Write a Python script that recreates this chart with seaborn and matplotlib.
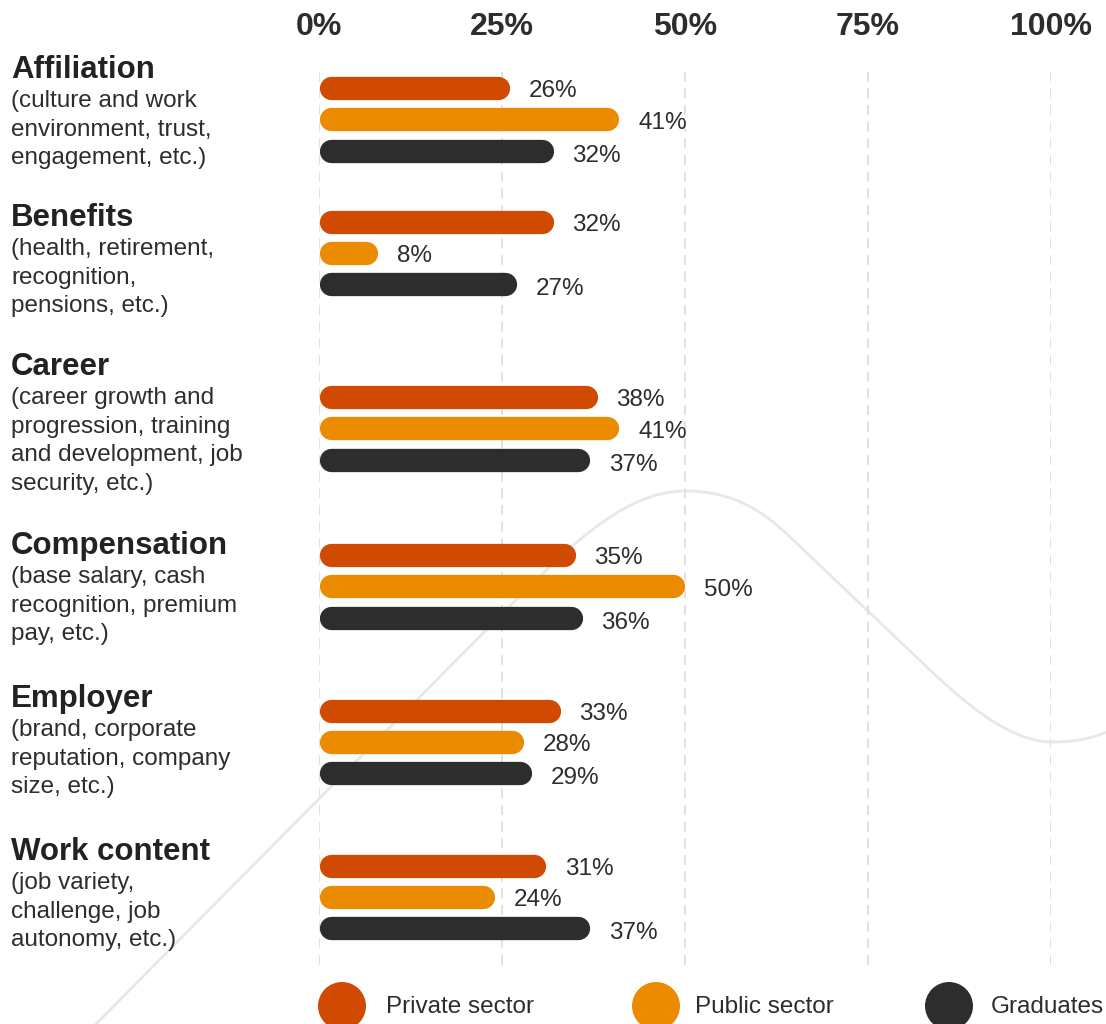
import numpy as np
import pandas as pd
import matplotlib
matplotlib.use("Agg")
import matplotlib.pyplot as plt
from matplotlib.patches import Circle, PathPatch
from matplotlib.path import Path
from matplotlib.transforms import Affine2D
import seaborn as sns

# ---------------- data ----------------
categories = ["Affiliation", "Benefits", "Career", "Compensation", "Employer", "Work content"]
descriptions = [
    ["(culture and work", "environment, trust,", "engagement, etc.)"],
    ["(health, retirement,", "recognition,", "pensions, etc.)"],
    ["(career growth and", "progression, training", "and development, job", "security, etc.)"],
    ["(base salary, cash", "recognition, premium", "pay, etc.)"],
    ["(brand, corporate", "reputation, company", "size, etc.)"],
    ["(job variety,", "challenge, job", "autonomy, etc.)"],
]
series_names = ["Private sector", "Public sector", "Graduates"]
private_sector = [26, 32, 38, 35, 33, 31]
public_sector = [41, 8, 41, 50, 28, 24]
graduates = [32, 27, 37, 36, 29, 37]
tick_values = [0, 25, 50, 75, 100]
tick_labels = ["0%", "25%", "50%", "75%", "100%"]

colors = ["#D04A02", "#EB8C00", "#2D2D2D"]
TEXT = "#2d2d2d"

# ---------------- layout (pixel rows, measured top-down) ----------------
W, H = 1106, 1024
AX_LEFT, AX_RIGHT, AX_TOP, AX_BOTTOM = 319, 1051, 70, 965
group_mid = [119.3, 252.7, 428.3, 586.3, 741.7, 896.7]
bar_step = 31.2
bar_h = 23.3
title_baseline = [78, 226, 375, 554, 707, 860]
label_dy = [0.5, 1.0, 2.5]

sns.set_theme(style="white")
plt.rcParams["font.family"] = ["Liberation Sans", "DejaVu Sans"]

series_values = [private_sector, public_sector, graduates]
rows = []
for s_i, (name, vals) in enumerate(zip(series_names, series_values)):
    for c_i, v in enumerate(vals):
        rows.append(dict(category=categories[c_i], series=name, value=v,
                         ypos=group_mid[c_i] + (s_i - 1) * bar_step))
df = pd.DataFrame(rows)

fig = plt.figure(figsize=(W / 100, H / 100), dpi=100)
fig.patch.set_facecolor("white")
ax = fig.add_axes([AX_LEFT / W, 1 - AX_BOTTOM / H,
                   (AX_RIGHT - AX_LEFT) / W, (AX_BOTTOM - AX_TOP) / H])
ax.patch.set_alpha(0)

sns.barplot(data=df, x="value", y="ypos", hue="series", hue_order=series_names,
            palette=colors, saturation=1, orient="h", native_scale=True,
            dodge=False, errorbar=None, legend=False, ax=ax, width=0.7)

ax.set_xlim(0, 100)
ax.set_ylim(AX_BOTTOM, AX_TOP)

# turn each seaborn bar into a pill (round-capped) shape
px_per_x = (AX_RIGHT - AX_LEFT) / 100.0
r = bar_h / 2 / px_per_x
lw_pt = bar_h * 72 / 100
for p in list(ax.patches):
    x0 = p.get_x(); w = p.get_width()
    yc = p.get_y() + p.get_height() / 2
    fc = p.get_facecolor()
    p.remove()
    rr = min(r, w / 2)
    ax.plot([x0 + rr, x0 + w - rr], [yc, yc], color=fc, lw=lw_pt,
            solid_capstyle="round", zorder=3)

# value labels
fs_val = 17.5
cap_half = 0.716 * fs_val * 100 / 72 / 2
gap = 19 / px_per_x
for s_i, vals in enumerate(series_values):
    for c_i, v in enumerate(vals):
        yc = group_mid[c_i] + (s_i - 1) * bar_step
        ax.text(v + gap, yc + cap_half + label_dy[s_i], f"{v}%", ha="left",
                va="baseline", fontsize=fs_val, color=TEXT, zorder=4)

# axis styling
ax.set_xticks(tick_values)
ax.set_xticklabels(tick_labels)
ax.xaxis.tick_top()
ax.tick_params(axis="x", length=0, pad=20, labelsize=23, labelcolor=TEXT)
for lbl in ax.get_xticklabels():
    lbl.set_fontweight("bold")
ax.set_yticks([])
ax.set_xlabel("")
ax.set_ylabel("")
ax.grid(axis="x", color="#dcdcdc", linestyle=(0, (6, 4)), linewidth=1.2)
ax.grid(axis="y", visible=False)
ax.set_axisbelow(True)
sns.despine(ax=ax, left=True, bottom=True, top=True, right=True)

# pixel transform (top-left origin)
tr = Affine2D().scale(1 / W, -1 / H).translate(0, 1) + fig.transFigure

# category titles and descriptions
for i, cat in enumerate(categories):
    fig.text(11, title_baseline[i], cat, transform=tr, fontsize=22.5,
             fontweight="bold", va="baseline", ha="left", color="#222222")
    for j, line in enumerate(descriptions[i]):
        fig.text(11, title_baseline[i] + 29 + j * 28.6, line, transform=tr,
                 fontsize=17.5, va="baseline", ha="left", color=TEXT)

# legend
leg_circle_x = [342, 656, 949]
leg_text_x = [386, 695, 991]
for k, name in enumerate(series_names):
    fig.add_artist(Circle((leg_circle_x[k], 1006), 24, transform=tr,
                          fc=colors[k], ec="none"))
    fig.text(leg_text_x[k], 1013, name, transform=tr, fontsize=17.5,
             va="baseline", ha="left", color=TEXT)

# decorative background wave
verts = [(92, 1028), (500, 616),
         (560, 556), (620, 491), (685, 491),
         (730, 491), (760, 508), (790, 537),
         (930, 670),
         (965, 703), (1010, 742), (1052, 742),
         (1080, 742), (1095, 737), (1112, 730)]
codes = [Path.MOVETO, Path.LINETO,
         Path.CURVE4, Path.CURVE4, Path.CURVE4,
         Path.CURVE4, Path.CURVE4, Path.CURVE4,
         Path.LINETO,
         Path.CURVE4, Path.CURVE4, Path.CURVE4,
         Path.CURVE4, Path.CURVE4, Path.CURVE4]
wave = PathPatch(Path(verts, codes), transform=tr, fc="none", ec="#e8e8e8",
                 lw=2.0, zorder=-1)
fig.add_artist(wave)

fig.savefig("out.png", dpi=100, facecolor="white")
